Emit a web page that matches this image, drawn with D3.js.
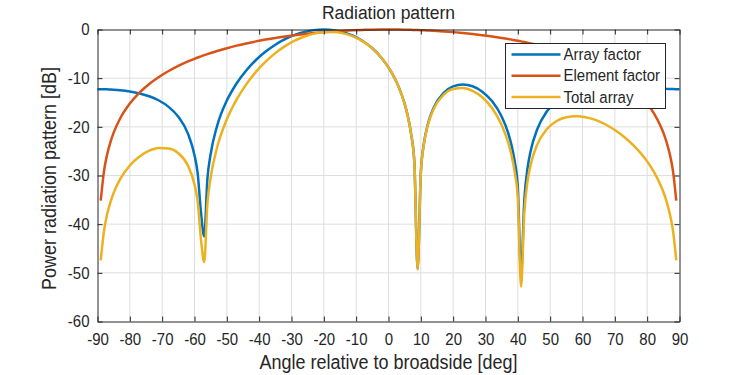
<!DOCTYPE html>
<html lang="en">
<head>
    <meta charset="UTF-8">
    <script src="https://d3js.org/d3.v7.min.js"></script>
    <style>
        body{ margin:0; background:white; }
        text{ font-family:"Liberation Sans", Arial, sans-serif; fill:#262626; }
        .grid line{ stroke:#dedede; stroke-width:1; }
        .axis path, .axis line{ stroke:#262626; }
    </style>
    <title>Radiation pattern</title>
</head>
<body>
    <svg width="750" height="375"></svg>
    <script>

        // angles [deg]
        const angles = [-90,-89,-88,-87,-86,-85,-83,-80,-77,-74,-71,-68,-65,-62,-60,-59,-58,-57,-56,-55,
            -53,-50,-47,-44,-41,-38,-35,-32,-29,-26,-23,-20,-17,-14,-11,-8,-5,-2,1,3,
            5,6,7,8,9,10,11,12,14,17,20,23,26,29,32,35,37,38,39,40,
            41,42,43,44,46,49,52,55,58,61,64,67,70,73,76,79,82,84,85,86,
            87,88,89,90];

        // array factor [dB]
        const arrayFactor = [-12.26,-12.26,-12.28,-12.30,-12.33,-12.37,-12.48,-12.74,-13.14,-13.72,-14.59,-15.90,-17.94,-21.44,-25.82,-29.67,-37.55,-42.52,-30.62,-25.58,
            -19.79,-14.61,-11.09,-8.41,-6.27,-4.53,-3.12,-1.99,-1.12,-0.50,-0.13,0,-0.13,-0.54,-1.27,-2.35,-3.86,-5.94,-8.85,-11.53,
            -15.27,-17.88,-21.47,-27.33,-49.20,-29.39,-23.22,-19.87,-16.00,-13.05,-11.69,-11.31,-11.67,-12.77,-14.71,-17.88,-21.24,-23.63,-26.97,-32.46,
            -50.40,-35.14,-28.50,-24.85,-20.50,-16.80,-14.60,-13.19,-12.28,-11.72,-11.42,-11.31,-11.34,-11.46,-11.63,-11.83,-12.02,-12.12,-12.16,-12.20,
            -12.23,-12.25,-12.26,-12.26];

        // element factor [dB]
        const elementFactor = [null,-35.16,-29.14,-25.62,-23.13,-21.19,-18.28,-15.21,-12.96,-11.19,-9.75,-8.53,-7.48,-6.57,-6.02,-5.76,-5.52,-5.28,-5.05,-4.83,
            -4.41,-3.84,-3.32,-2.86,-2.44,-2.07,-1.73,-1.43,-1.16,-0.93,-0.72,-0.54,-0.39,-0.26,-0.16,-0.09,-0.03,-0.01,0,-0.01,
            -0.03,-0.05,-0.07,-0.09,-0.11,-0.13,-0.16,-0.19,-0.26,-0.39,-0.54,-0.72,-0.93,-1.16,-1.43,-1.73,-1.95,-2.07,-2.19,-2.32,
            -2.44,-2.58,-2.72,-2.86,-3.16,-3.66,-4.21,-4.83,-5.52,-6.29,-7.16,-8.16,-9.32,-10.68,-12.33,-14.39,-17.13,-19.62,-21.19,-23.13,
            -25.62,-29.14,-35.16,null];

        // total array [dB]
        const totalArray = [null,-47.42,-41.42,-37.92,-35.46,-33.56,-30.76,-27.95,-26.10,-24.91,-24.34,-24.43,-25.42,-28.01,-31.84,-35.43,-43.07,-47.80,-35.67,-30.41,
            -24.20,-18.45,-14.41,-11.27,-8.71,-6.60,-4.85,-3.42,-2.28,-1.43,-0.85,-0.54,-0.52,-0.80,-1.43,-2.44,-3.89,-5.95,-8.85,-11.54,
            -15.30,-17.93,-21.54,-27.42,-49.31,-29.52,-23.38,-20.06,-16.26,-13.44,-12.23,-12.03,-12.60,-13.93,-16.14,-19.61,-23.19,-25.70,-29.16,-34.78,
            -52.84,-37.72,-31.22,-27.71,-23.66,-20.46,-18.81,-18.02,-17.80,-18.01,-18.58,-19.47,-20.66,-22.14,-23.96,-26.22,-29.15,-31.74,-33.35,-35.33,
            -37.85,-41.39,-47.42,null];

        const xTicks = d3.range(-90, 91, 10);
        const yTicks = d3.range(-60, 1, 10);

        const series = [
            { name:"Array factor", values:arrayFactor, color:"#0072BD" },
            { name:"Element factor", values:elementFactor, color:"#D95319" },
            { name:"Total array", values:totalArray, color:"#EDB120" }
        ];

        const width = 750;
        const height = 375;
        const margin = { top:29.5, right:70.5, bottom:53.5, left:97.5 };

        const svg = d3.select("svg")
            .attr("width", width)
            .attr("height", height);

        const xScale = d3.scaleLinear()
            .domain([-90, 90])
            .range([margin.left, width - margin.right]);

        const yScale = d3.scaleLinear()
            .domain([-60, 0])
            .range([height - margin.bottom, margin.top]);

        // plain hyphen for negatives, like the reference
        const fmt = d => String(d);

        // text in the reference is a bit taller than wide
        const sy = 1.1;
        function stretch(sel){
            sel.each(function(){
                const t = d3.select(this);
                const y = +t.attr("y") || 0;
                t.attr("y", y / sy).attr("transform", `scale(1,${sy})`);
            });
        }

        // grid
        svg.append("g")
            .attr("class", "grid")
            .selectAll("line")
            .data(xTicks.slice(1, -1))
            .enter().append("line")
            .attr("x1", d => xScale(d)).attr("x2", d => xScale(d))
            .attr("y1", yScale(-60)).attr("y2", yScale(0));

        svg.append("g")
            .attr("class", "grid")
            .selectAll("line")
            .data(yTicks.slice(1, -1))
            .enter().append("line")
            .attr("x1", xScale(-90)).attr("x2", xScale(90))
            .attr("y1", d => yScale(d)).attr("y2", d => yScale(d));

        // curves
        series.forEach(s => {
            const line = d3.line()
                .defined((d, i) => s.values[i] !== null)
                .x(d => xScale(d))
                .y((d, i) => yScale(s.values[i]))
                .curve(d3.curveMonotoneX);

            svg.append("path")
                .datum(angles)
                .attr("fill", "none")
                .attr("stroke", s.color)
                .attr("stroke-width", 2.5)
                .attr("stroke-linejoin", "round")
                .attr("d", line);
        });

        // axes (ticks inside, box all round)
        const tl = 5;
        svg.append("g")
            .attr("class", "axis")
            .attr("transform", `translate(0,${yScale(-60)})`)
            .call(d3.axisBottom(xScale).tickValues(xTicks).tickFormat(fmt).tickSizeInner(-tl).tickSizeOuter(0).tickPadding(12))
            .call(g => g.selectAll("text").attr("font-size", 15).call(stretch));

        svg.append("g")
            .attr("class", "axis")
            .attr("transform", `translate(0,${yScale(0)})`)
            .call(d3.axisTop(xScale).tickValues(xTicks).tickSizeInner(-tl).tickSizeOuter(0).tickFormat(""));

        svg.append("g")
            .attr("class", "axis")
            .attr("transform", `translate(${xScale(-90)},0)`)
            .call(d3.axisLeft(yScale).tickValues(yTicks).tickFormat(fmt).tickSizeInner(-tl).tickSizeOuter(0).tickPadding(8))
            .call(g => g.selectAll("text").attr("font-size", 15).call(stretch));

        svg.append("g")
            .attr("class", "axis")
            .attr("transform", `translate(${xScale(90)},0)`)
            .call(d3.axisRight(yScale).tickValues(yTicks).tickSizeInner(-tl).tickSizeOuter(0).tickFormat(""));

        svg.selectAll(".axis .domain").attr("stroke-width", 1);

        // labels
        svg.append("text")
            .attr("x", (xScale(-90) + xScale(90)) / 2)
            .attr("y", 19)
            .attr("text-anchor", "middle")
            .attr("font-size", 17.5)
            .text("Radiation pattern")
            .call(stretch);

        svg.append("text")
            .attr("x", (xScale(-90) + xScale(90)) / 2)
            .attr("y", 369)
            .attr("text-anchor", "middle")
            .attr("font-size", 18)
            .text("Angle relative to broadside [deg]")
            .call(stretch);

        svg.append("g")
            .attr("transform", `translate(56,${(yScale(-60) + yScale(0)) / 2 + 3}) rotate(-90)`)
            .append("text")
            .attr("text-anchor", "middle")
            .attr("font-size", 18)
            .text("Power radiation pattern [dB]")
            .call(stretch);

        // legend
        const legend = svg.append("g").attr("transform", "translate(505.5,43.5)");
        legend.append("rect")
            .attr("width", 160)
            .attr("height", 65)
            .attr("fill", "white")
            .attr("stroke", "#262626")
            .attr("stroke-width", 1);

        series.forEach((s, i) => {
            const y = 11 + i * 21.3;
            legend.append("line")
                .attr("x1", 6).attr("x2", 55)
                .attr("y1", y).attr("y2", y)
                .attr("stroke", s.color)
                .attr("stroke-width", 2.5);
            legend.append("text")
                .attr("x", 58)
                .attr("y", y + 5.5)
                .attr("font-size", 15)
                .text(s.name)
                .call(stretch);
        });

    </script>
</body>
</html>
